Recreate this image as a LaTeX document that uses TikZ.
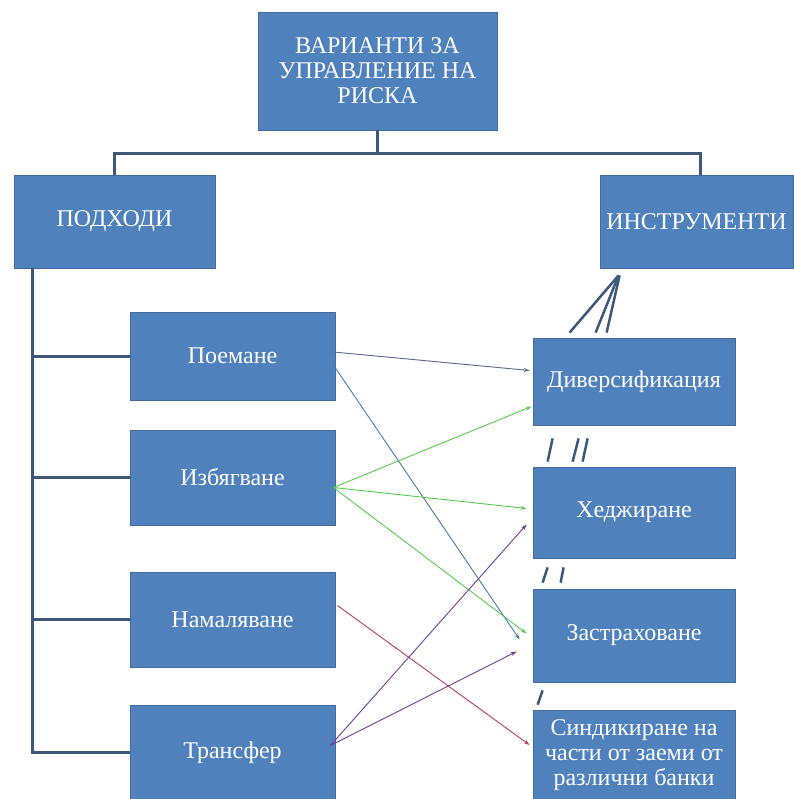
\documentclass[tikz,border=0pt]{standalone}
\usepackage{fontspec}
\setmainfont{Liberation Serif}
\usetikzlibrary{calc,arrows.meta,positioning}
\definecolor{boxblue}{RGB}{79,129,189}
\definecolor{boxedge}{RGB}{65,108,160}
\definecolor{treeline}{RGB}{62,88,124}
\definecolor{linkgray}{RGB}{88,104,136}
\definecolor{linkblue}{RGB}{74,120,168}
\definecolor{linkgreen}{RGB}{88,200,80}
\definecolor{linkred}{RGB}{180,60,90}
\definecolor{linkpurple}{RGB}{112,60,150}

\begin{document}
\begin{tikzpicture}[x=1pt,y=-1pt,
  box/.style={draw=boxedge,line width=0.8pt,fill=boxblue,text=white,align=center,inner sep=2pt,font=\fontsize{24}{25}\selectfont},
  lbox/.style={box,minimum width=205pt,minimum height=95pt},
  rbox/.style={box,minimum width=202pt,minimum height=91pt},
  tree/.style={draw=treeline,line width=3pt},
  stub/.style={draw=treeline,line width=2.5pt},
  link/.style={-{Stealth[length=6pt,width=4pt]},line width=0.9pt}]
\useasboundingbox (0,0) rectangle (793,799);

\node[box,minimum width=239pt,minimum height=118pt] (risk) at (377.5,71) {ВАРИАНТИ ЗА\\УПРАВЛЕНИЕ НА\\РИСКА};
\node[box,minimum width=201pt,minimum height=93pt] (appr) at (114.5,221.5) {ПОДХОДИ};
\node[box,minimum width=193pt,minimum height=93pt] (tools) at (696.5,221.5) {ИНСТРУМЕНТИ};

\node[lbox,minimum height=88pt] (take) at (232.5,356) {Поемане};
\node[lbox] (avoid) at (232.5,477.5) {Избягване};
\node[lbox] (reduce) at (232.5,619.5) {Намаляване};
\node[lbox] (transfer) at (232.5,752.5) {Трансфер};

\node[rbox,minimum height=87pt] (divers) at (634,381.5) {Диверсификация};
\node[rbox] (hedge) at (634,512.5) {Хеджиране};
\node[rbox,minimum height=93pt] (insure) at (634,635.5) {Застраховане};
\node[rbox,minimum height=90pt] (syndic) at (634,755) {Синдикиране на\\части от заеми от\\различни банки};

\draw[tree] (risk.south) -- ++(0,23) coordinate (bar);
\draw[tree] (appr.north) |- (bar) -| ([xshift=3.5pt]tools.north);
\coordinate (spine) at ($(appr.south west)+(19,0)$);
\draw[tree] (spine) |- (transfer.west);
\foreach \n in {take,avoid,reduce}
  \draw[tree] (spine |- \n.west) -- (\n.west);

\draw[stub] ($(tools.south west)+(19,7)$) -- ($(divers.north west)+(37,-5)$);
\draw[stub] ($(tools.south west)+(19,7)$) -- ($(divers.north west)+(63,-5)$);
\draw[stub] ($(tools.south west)+(20,7)$) -- ($(divers.north west)+(74,-5)$);
\draw[stub] ($(divers.south west)+(20,13)$) -- ($(hedge.north west)+(15,-5)$);
\draw[stub] ($(divers.south west)+(46,13)$) -- ($(hedge.north west)+(40,-5)$);
\draw[stub] ($(divers.south west)+(55,13)$) -- ($(hedge.north west)+(50,-5)$);
\draw[stub] ($(hedge.south west)+(15,9)$) -- ($(insure.north west)+(10,-6)$);
\draw[stub] ($(hedge.south west)+(31,9)$) -- ($(insure.north west)+(28,-6)$);
\draw[stub] ($(insure.south west)+(10,8)$) -- ($(syndic.north west)+(5,-5)$);

\draw[link,linkgray] ($(take.east)+(-2,-4)$) -- ($(divers.west)+(-3,-11)$);
\draw[link,linkblue] ($(take.east)+(-2,9)$) -- ($(insure.west)+(-13,4)$);
\draw[link,linkgreen] ($(avoid.east)+(-2,10)$) -- ($(divers.west)+(-1,25)$);
\draw[link,linkgreen] ($(avoid.east)+(-2,10)$) -- ($(hedge.west)+(-6,-4)$);
\draw[link,linkgreen] ($(avoid.east)+(-2,10)$) -- ($(insure.west)+(-6,-2)$);
\draw[link,linkred] ($(reduce.east)+(2,-14)$) -- ($(syndic.west)+(-3,-10)$);
\draw[link,linkpurple] ($(transfer.east)+(-5,-7)$) -- ($(hedge.west)+(-6,12)$);
\draw[link,linkpurple] ($(transfer.east)+(-5,-7)$) -- ($(insure.west)+(-16,16)$);
\end{tikzpicture}
\end{document}
